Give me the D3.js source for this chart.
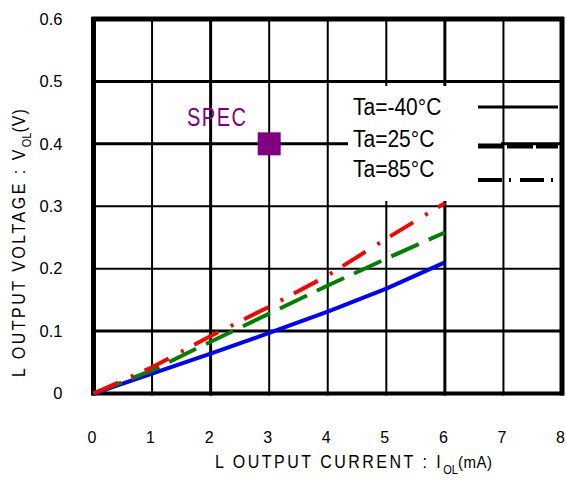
<!DOCTYPE html>
<html><head><meta charset="utf-8">
<script src="https://cdn.jsdelivr.net/npm/d3@7"></script>
<style>
html,body{margin:0;padding:0;background:#fff;}
svg{display:block;font-family:"Liberation Sans",Arial,sans-serif;}
</style></head>
<body><svg id="c" width="566" height="480"></svg>
<script>
// ---- data ----
const currents = [0, 1, 2, 3, 4, 5, 6];            // I_OL (mA)
const vMinus40 = [0, 0.032, 0.064, 0.097, 0.131, 0.168, 0.21];
const v25      = [0, 0.037, 0.083, 0.128, 0.173, 0.216, 0.258];
const v85      = [0, 0.042, 0.092, 0.139, 0.189, 0.248, 0.305];
const seriesNames = ["Ta=-40°C", "Ta=25°C", "Ta=85°C"];
const specPoint = [3, 0.4];
const xTicks = [0, 1, 2, 3, 4, 5, 6, 7, 8];
const yTicks = [0, 0.1, 0.2, 0.3, 0.4, 0.5, 0.6];
const yTickLabels = ["0", "0.1", "0.2", "0.3", "0.4", "0.5", "0.6"];

const svg = d3.select("#c");
const x = d3.scaleLinear().domain([0, 8]).range([93.5, 562]);
const y = d3.scaleLinear().domain([0, 0.6]).range([393.5, 19]);

// grid
const vW = [5, 2, 3, 2, 2, 2, 3, 2, 5];
const hW = [4, 3, 2, 2, 3, 3, 5];
const grid = svg.append("g");
grid.selectAll("line.v").data(xTicks).join("line")
  .attr("x1", d => x(d)).attr("x2", d => x(d))
  .attr("y1", y(0.6) - 2).attr("y2", y(0) + 2)
  .attr("stroke", "#000").attr("stroke-width", (d, i) => vW[i]);
grid.selectAll("line.h").data(yTicks).join("line")
  .attr("x1", x(0) - 2).attr("x2", x(8) + 2)
  .attr("y1", d => y(d)).attr("y2", d => y(d))
  .attr("stroke", "#000").attr("stroke-width", (d, i) => hW[i]);

// axis labels
const xa = svg.append("g").attr("transform", `translate(0,${y(0)})`)
  .call(d3.axisBottom(x).tickValues(xTicks).tickSize(0).tickPadding(38).tickFormat(d3.format("d")));
xa.select(".domain").remove();
xa.selectAll("text").attr("font-size", 16).attr("dx", -2).attr("fill", "#000")
  .attr("font-family", "Liberation Sans, Arial, sans-serif");

const ya = svg.append("g").attr("transform", `translate(${x(0)},0)`)
  .call(d3.axisLeft(y).tickValues(yTicks).tickSize(0).tickPadding(31)
    .tickFormat((d, i) => yTickLabels[i]));
ya.select(".domain").remove();
ya.selectAll("text").attr("font-size", 16.5).attr("fill", "#000")
  .attr("font-family", "Liberation Sans, Arial, sans-serif");

// data lines
const line = d3.line().x(d => x(d[0])).y(d => y(d[1]));
const series = [
  {vals: vMinus40, color: "#0000ff", dash: null},
  {vals: v25, color: "#008000", dash: "30,11"},
  {vals: v85, color: "#ff0000", dash: "27,14,3,12"}
];
svg.append("g").selectAll("path").data(series).join("path")
  .attr("d", s => line(currents.map((c, i) => [c, s.vals[i]])))
  .attr("fill", "none").attr("stroke", s => s.color).attr("stroke-width", 4)
  .attr("stroke-dasharray", s => s.dash);

// spec point
svg.append("rect")
  .attr("x", x(specPoint[0]) - 11.5).attr("y", y(specPoint[1]) - 11.5)
  .attr("width", 23).attr("height", 23).attr("fill", "#800080");
const sg = svg.append("g").attr("transform", "translate(187,126) scale(1,1.3)");
sg.append("text").text("SPEC").attr("font-size", 20).attr("letter-spacing", 1.5).attr("fill", "#800080");

// legend
svg.append("rect").attr("x", 348).attr("y", 86).attr("width", 153).attr("height", 115).attr("fill", "#fff");
const legY = [107, 146, 180];
const legBase = [115, 146.5, 177];
seriesNames.forEach((n, i) => {
  svg.append("g").attr("transform", `translate(353,${legBase[i]}) scale(1,1.12)`)
    .append("text").text(n).attr("font-size", 21).attr("fill", "#000");
});
const legStyles = [
  {w: 3, dash: null},
  {w: 5, dash: "26,3"},
  {w: 4, dash: "24,7,2,9"}
];
legStyles.forEach((s, i) => {
  svg.append("line").attr("x1", 478).attr("x2", 558).attr("y1", legY[i]).attr("y2", legY[i])
    .attr("stroke", "#000").attr("stroke-width", s.w).attr("stroke-dasharray", s.dash);
});

// axis titles
const xt = svg.append("g").attr("transform", "translate(215,468) scale(1,1.13)")
  .append("text").attr("font-size", 16).attr("fill", "#000");
xt.append("tspan").text("L OUTPUT CURRENT : I").attr("letter-spacing", 2.5);
xt.append("tspan").text("OL").attr("font-size", 11).attr("dy", 5).attr("letter-spacing", 0);
xt.append("tspan").text("(mA)").attr("dy", -5).attr("font-size", 15).attr("letter-spacing", 0.5);

const yt = svg.append("g").attr("transform", "translate(25,377) rotate(-90) scale(1,1.13)")
  .append("text").attr("font-size", 16).attr("fill", "#000");
yt.append("tspan").text("L OUTPUT VOLTAGE : V").attr("letter-spacing", 2.5);
yt.append("tspan").text("OL").attr("font-size", 11).attr("dy", 5).attr("letter-spacing", 0);
yt.append("tspan").text("(V)").attr("dy", -5).attr("font-size", 16).attr("letter-spacing", 1);
</script></body></html>
